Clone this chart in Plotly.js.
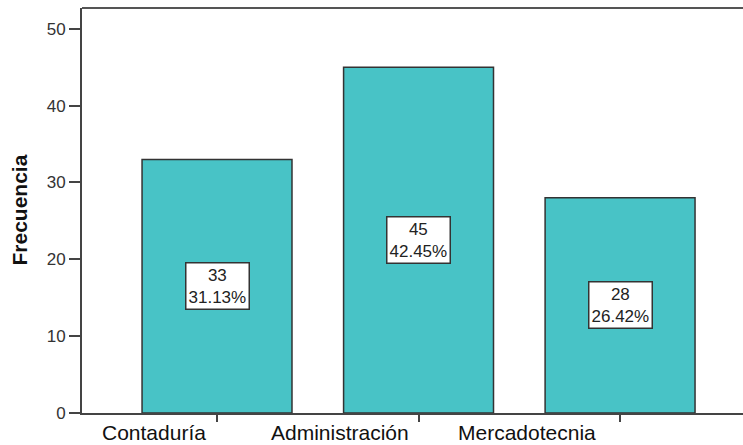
<!DOCTYPE html>
<html>
<head>
<meta charset="utf-8">
<script src="https://cdn.plot.ly/plotly-3.0.1.min.js"></script>
<style>html,body{margin:0;padding:0;background:#fff;overflow:hidden}</style>
</head>
<body>
<div id="chart" style="width:743px;height:445px"></div>
<script>
const categories = ["Contaduría", "Administración", "Mercadotecnia"];
const frequencies = [33, 45, 28];
const percents = ["31.13%", "42.45%", "26.42%"];
const yTicks = [0, 10, 20, 30, 40, 50];

const FONT = "'Liberation Sans', Arial, sans-serif";
const xIdx = categories.map((_, i) => i);
const catLabelShift = [-9, -8, -22];

const trace = {
  type: "bar",
  x: xIdx,
  y: frequencies,
  marker: { color: "#48C3C6", line: { color: "#333333", width: 1.5 } },
  hoverinfo: "skip"
};

const annotations = [];
frequencies.forEach((v, i) => {
  annotations.push({
    x: i, y: v / 2, xref: "x", yref: "y",
    text: v + "<br>" + percents[i],
    showarrow: false,
    font: { family: FONT, size: 17, color: "#222" },
    bgcolor: "#ffffff", bordercolor: "#333333", borderwidth: 1.5, borderpad: 2,
    align: "center"
  });
  annotations.push({
    x: i, y: 0, xref: "x", yref: "paper",
    text: categories[i],
    showarrow: false, xanchor: "right", yanchor: "top",
    xshift: catLabelShift[i], yshift: -6,
    font: { family: FONT, size: 21, color: "#111" }
  });
});
annotations.push({
  x: 0, y: 0.5, xref: "paper", yref: "paper",
  text: "<b>Frecuencia</b>", textangle: -90,
  showarrow: false, xanchor: "center", yanchor: "middle", xshift: -63,
  font: { family: FONT, size: 21, color: "#111" }
});

const layout = {
  width: 743, height: 445,
  margin: { l: 82, r: 0, t: 8, b: 32, pad: 0 },
  paper_bgcolor: "#fff", plot_bgcolor: "#fff",
  showlegend: false,
  bargap: 0.256,
  xaxis: {
    range: [-0.67, 2.61],
    tickvals: xIdx, showticklabels: false,
    ticks: "outside", ticklen: 7, tickwidth: 2, tickcolor: "#444",
    showline: true, linecolor: "#444", linewidth: 2,
    showgrid: false, zeroline: false, fixedrange: true
  },
  yaxis: {
    range: [0, 52.7],
    tickvals: yTicks,
    ticks: "outside", ticklen: 11, tickwidth: 2, tickcolor: "#444",
    ticklabelstandoff: 0,
    tickfont: { family: FONT, size: 17, color: "#333" },
    showline: true, linecolor: "#444", linewidth: 2,
    showgrid: false, zeroline: false, fixedrange: true
  },
  shapes: [{
    type: "line", xref: "paper", yref: "paper",
    x0: 0, x1: 1, y0: 1, y1: 1,
    line: { color: "#555", width: 2 }
  }],
  annotations: annotations
};

Plotly.newPlot("chart", [trace], layout, { staticPlot: true, displayModeBar: false });
</script>
</body>
</html>
